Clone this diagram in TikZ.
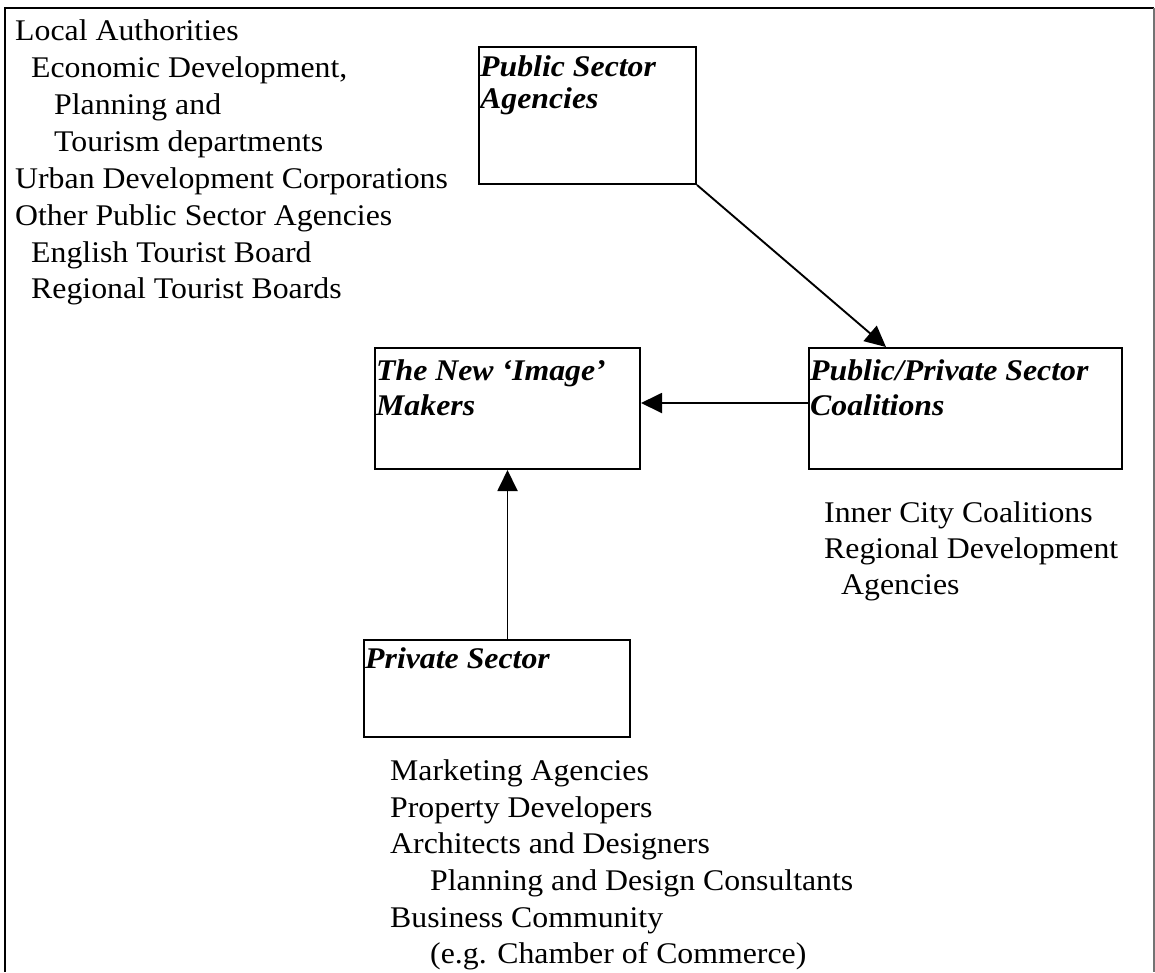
\documentclass[tikz,border=0pt]{standalone}
\usepackage{fontspec}
\setmainfont{Liberation Serif}[FakeStretch=1.06]
\usetikzlibrary{arrows.meta}

\tikzset{
  item/.style={inner sep=0pt, anchor=base west, font=\fontsize{30}{36}\selectfont},
  heading/.style={item, font=\fontsize{30}{36}\selectfont\bfseries\itshape},
  box/.style={draw, line width=2pt, inner sep=0pt, anchor=north west},
  conn/.style={line width=1.9pt, -{Triangle[length=21pt,width=20pt]}},
  frame/.style={line width=1.5pt},
}

\begin{document}
\begin{tikzpicture}[x=1pt,y=-1pt]
\useasboundingbox (0,0) rectangle (1155,972);

% outer frame (open at the bottom)
\draw[frame] (5,972) -- (5,8) -- (1154,8);
\draw[frame, black!55] (1154,8) -- (1154,972);

% boxes
\node[box, minimum width=217pt, minimum height=137pt] (psa) at (478,46) {};
\node[box, minimum width=265pt, minimum height=121pt] (nim) at (374,347) {};
\node[box, minimum width=313pt, minimum height=121pt] (ppc) at (808,347) {};
\node[box, minimum width=266pt, minimum height=97pt]  (ps)  at (363,639) {};

% box headings
\node[heading] (psa1) at (480,76)  {Public Sector};
\node[heading] (psa2) at (480,108) {Agencies};
\node[heading] (nim1) at (376,380) {The New ‘Image’};
\node[heading] (nim2) at (376,415) {Makers};
\node[heading] (ppc1) at (810,380) {Public/Private Sector};
\node[heading] (ppc2) at (810,415) {Coalitions};
\node[heading] (ps1)  at (365,668) {Private Sector};

% public sector members
\foreach \t/\x/\y [count=\i] in {
  {Local Authorities}/15/40,
  {Economic Development,}/31/77,
  {Planning and}/54/114,
  {Tourism departments}/54/151,
  {Urban Development Corporations}/15/188,
  {Other Public Sector Agencies}/15/225,
  {English Tourist Board}/31/262,
  {Regional Tourist Boards}/31/298}
  \node[item] (pub\i) at (\x,\y) {\t};

% coalition members
\foreach \t/\x/\y [count=\i] in {
  {Inner City Coalitions}/824/522,
  {Regional Development}/824/558,
  {Agencies}/841/594}
  \node[item] (coa\i) at (\x,\y) {\t};

% private sector members
\foreach \t/\x/\y [count=\i] in {
  {Marketing Agencies}/390/780,
  {Property Developers}/390/817,
  {Architects and Designers}/390/853,
  {Planning and Design Consultants}/430/890,
  {Business Community}/390/927,
  {(e.g. Chamber of Commerce)}/430/963}
  \node[item] (prv\i) at (\x,\y) {\t};

% connectors
\coordinate (hit) at ([xshift=78pt]ppc.north west);
\draw[conn] (psa.south east) -- (hit);
\coordinate (h) at ([yshift=5.5pt]ppc.west);
\draw[conn] (h) -- (h -| nim.east);
\draw[conn] (nim.south |- ps.north) -- (nim.south);
\end{tikzpicture}
\end{document}
